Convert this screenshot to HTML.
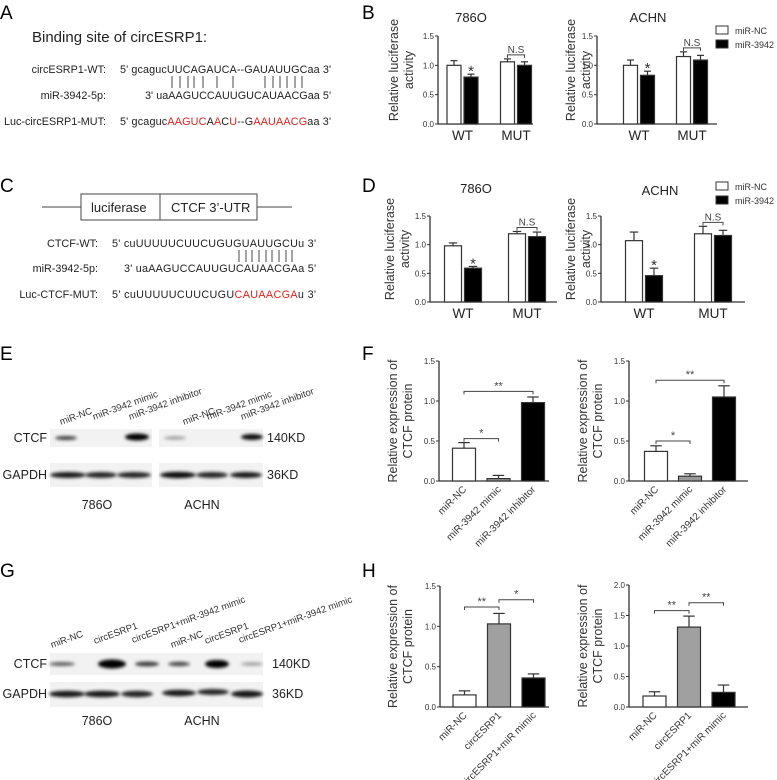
<!DOCTYPE html>
<html><head><meta charset="utf-8">
<style>
html,body{margin:0;padding:0;background:#fff;}
svg{display:block;font-family:"Liberation Sans",sans-serif;}
</style></head>
<body>
<svg id="fig" width="777" height="780" viewBox="0 0 777 780" xmlns="http://www.w3.org/2000/svg">
<defs>
<filter id="blur" x="-50%" y="-100%" width="200%" height="300%"><feGaussianBlur stdDeviation="1.6"/></filter>
</defs>
<g font-size="19" fill="#000">
<text x="0" y="19">A</text><text x="362" y="19">B</text>
<text x="0" y="192">C</text><text x="362" y="192">D</text>
<text x="0" y="360">E</text><text x="362" y="360">F</text>
<text x="0" y="577">G</text><text x="362" y="577">H</text>
</g>
<!-- Panel A -->
<g font-size="10.8" fill="#222">
<text x="32" y="42" font-size="15">Binding site of circESRP1:</text>
<text x="106" y="73" text-anchor="end">circESRP1-WT:</text>
<text x="120" y="73" textLength="211">5' gcagucUUCAGAUCA--GAUAUUGCaa 3'</text>
<g stroke="#333" stroke-width="0.9">
<line x1="172" y1="76" x2="172" y2="88"/><line x1="180" y1="76" x2="180" y2="88"/><line x1="188" y1="76" x2="188" y2="88"/><line x1="194" y1="76" x2="194" y2="88"/><line x1="203" y1="76" x2="203" y2="88"/><line x1="217" y1="76" x2="217" y2="88"/><line x1="233" y1="76" x2="233" y2="88"/><line x1="265" y1="76" x2="265" y2="88"/><line x1="273" y1="76" x2="273" y2="88"/><line x1="280" y1="76" x2="280" y2="88"/><line x1="287" y1="76" x2="287" y2="88"/><line x1="295" y1="76" x2="295" y2="88"/><line x1="302" y1="76" x2="302" y2="88"/>
</g>
<text x="106" y="99" text-anchor="end">miR-3942-5p:</text>
<text x="145" y="99" textLength="186">3' uaAAGUCCAUUGUCAUAACGaa 5'</text>
<text x="106" y="125" text-anchor="end">Luc-circESRP1-MUT:</text>
<text x="120" y="125" textLength="211">5' gcaguc<tspan fill="#e0201c">AAGUC</tspan>A<tspan fill="#e0201c">A</tspan>C<tspan fill="#e0201c">U</tspan>--G<tspan fill="#e0201c">AAUAACG</tspan>aa  3'</text>
</g>
<!-- Panel C -->
<g stroke="#444" fill="none">
<line x1="42" y1="207" x2="81" y2="207"/><line x1="257" y1="207" x2="292" y2="207"/>
<rect x="81" y="194" width="176" height="26"/><line x1="160" y1="194" x2="160" y2="220"/>
</g>
<g font-size="10.8" fill="#222">
<text x="91" y="212" font-size="13">luciferase</text>
<text x="171" y="212" font-size="13">CTCF 3’-UTR</text>
<text x="98" y="247" text-anchor="end">CTCF-WT:</text>
<text x="112" y="247" textLength="204">5' cuUUUUUCUUCUGUGUAUUGCUu 3'</text>
<g stroke="#333" stroke-width="0.9">
<line x1="239" y1="250" x2="239" y2="262"/><line x1="246" y1="250" x2="246" y2="262"/><line x1="252" y1="250" x2="252" y2="262"/><line x1="259" y1="250" x2="259" y2="262"/><line x1="266" y1="250" x2="266" y2="262"/><line x1="272" y1="250" x2="272" y2="262"/><line x1="279" y1="250" x2="279" y2="262"/><line x1="286" y1="250" x2="286" y2="262"/><line x1="292" y1="250" x2="292" y2="262"/>
</g>
<text x="98" y="272" text-anchor="end">miR-3942-5p:</text>
<text x="124" y="272" textLength="192">3' uaAAGUCCAUUGUCAUAACGAa  5'</text>
<text x="98" y="298" text-anchor="end">Luc-CTCF-MUT:</text>
<text x="112" y="298" textLength="204">5' cuUUUUUCUUCUGU<tspan fill="#e0201c">CAUAACGA</tspan>u   3'</text>
</g>
<g id="blots"></g>
<g id="charts"></g>
</svg>
<script>
// ===== Panel B data =====
const bGroups = ["WT","MUT"];
const b1NC = [1.00,1.06], b1NCerr = [0.08,0.05], b1Mi = [0.80,1.00], b1MiErr = [0.05,0.06];
const b2NC = [1.00,1.15], b2NCerr = [0.09,0.08], b2Mi = [0.83,1.09], b2MiErr = [0.07,0.08];
// ===== Panel D data =====
const d1NC = [0.98,1.19], d1NCerr = [0.05,0.04], d1Mi = [0.59,1.14], d1MiErr = [0.03,0.08];
const d2NC = [1.07,1.19], d2NCerr = [0.15,0.13], d2Mi = [0.46,1.16], d2MiErr = [0.13,0.09];
const lucTicks = [0,0.5,1.0,1.5];
const lucTickLabels = ["0.0","0.5","1.0","1.5"];
// ===== Panel F data =====
const fCats = ["miR-NC","miR-3942 mimic","miR-3942 inhibitor"];
const f1Vals = [0.41,0.03,0.98], f1Err = [0.07,0.04,0.07];
const f2Vals = [0.37,0.06,1.05], f2Err = [0.07,0.03,0.14];
// ===== Panel H data =====
const hCats = ["miR-NC","circESRP1","circESRP1+miR mimic"];
const h1Vals = [0.15,1.03,0.36], h1Err = [0.05,0.13,0.05];
const h2Vals = [0.18,1.31,0.24], h2Err = [0.07,0.18,0.12];
const h2Ticks = [0,0.5,1.0,1.5,2.0];
const h2TickLabels = ["0.0","0.5","1.0","1.5","2.0"];

const NS="http://www.w3.org/2000/svg";
const root=document.getElementById('charts');
function mk(tag,attrs,parent,txt){const e=document.createElementNS(NS,tag);for(const k in attrs)e.setAttribute(k,attrs[k]);if(txt!==undefined)e.textContent=txt;(parent||root).appendChild(e);return e;}

function axes(g,c,ticks,labels){
  const y=v=>c.y0-(v/c.ymax)*(c.y0-c.yTop);
  const ax=mk('line',{x1:c.ax,y1:c.yTop,x2:c.ax,y2:c.y0,stroke:'#333','stroke-width':1.3},g);
  
  
  const xx=mk('line',{x1:c.ax,y1:c.y0,x2:c.xEnd,y2:c.y0,stroke:'#333','stroke-width':1.3},g);
  
  
  ticks.forEach((t,i)=>{
    mk('line',{x1:c.ax-3,y1:y(t),x2:c.ax,y2:y(t),stroke:'#333'},g);
    const tl=mk('text',{x:c.ax-4,y:y(t)+3,'text-anchor':'end','font-size':8,fill:'#333'},g,labels[i]);
    
    
  });
  const mid=(c.yTop+c.y0)/2-c.ymidShift;
  c.ylab.forEach((s,i)=>{
    const lx=c.ylx+i*15;
    const t=mk('text',{x:lx,y:mid,transform:`rotate(-90 ${lx} ${mid})`,'text-anchor':'middle','font-size':c.ylfs,fill:'#333'},g,s);
    
    
  });
  return y;
}
function bar(g,x,w,y0,yv,ye,fill,name){
  mk('line',{x1:x+w/2,y1:yv,x2:x+w/2,y2:ye,stroke:'#333','stroke-width':1.2},g);
  mk('line',{x1:x+w/2-w/4,y1:ye,x2:x+w/2+w/4,y2:ye,stroke:'#333','stroke-width':1.2},g);
  const r=mk('rect',{x:x,y:yv,width:w,height:y0-yv,fill:fill,stroke:'#333','stroke-width':1.2},g);
  
  
}
function bracket(g,x1,x2,yy,label,fs){
  mk('path',{d:`M${x1} ${yy+3}V${yy}H${x2}V${yy+3}`,fill:'none',stroke:'#444','stroke-width':1},g);
  const t=mk('text',{x:(x1+x2)/2,y:yy-2,'text-anchor':'middle','font-size':fs||9,fill:'#444'},g,label);
  
  
}
function lucChart(c,nc,ncE,mi,miE){
  const g=mk('g',{});
  
  
  const y=axes(g,c,lucTicks,lucTickLabels);
  const tt=mk('text',{x:c.tx,y:c.ty,'text-anchor':'middle','font-size':13,fill:'#222'},g,c.title);
  
  
  bGroups.forEach((grp,i)=>{
    const cx=c.ax+c.pad+i*c.step;
    bar(g,cx-c.w-1.5,c.w,c.y0,y(nc[i]),y(nc[i]+ncE[i]),'#fff','bar-mir-nc-'+grp.toLowerCase());
    bar(g,cx+1.5,c.w,c.y0,y(mi[i]),y(mi[i]+miE[i]),'#000','bar-mir-3942-'+grp.toLowerCase());
    const xl=mk('text',{x:cx,y:c.y0+16,'text-anchor':'middle','font-size':13.5,fill:'#222'},g,grp);
    
    
    if(i===0){const s=mk('text',{x:cx+1.5+c.w/2,y:y(mi[i]+miE[i])+2,'text-anchor':'middle','font-size':15,fill:'#333'},g,'*');
      
      }
    else{const top=Math.max(nc[i]+ncE[i],mi[i]+miE[i]);bracket(g,cx-c.w/2-1.5,cx+c.w/2+1.5,y(top)-c.nsGap,'N.S',10);}
  });
}
function legend(x,y){
  const g=mk('g',{});
  
  
  mk('rect',{x:x,y:y,width:12,height:8,fill:'#fff',stroke:'#333'},g);
  mk('text',{x:x+19,y:y+8,'font-size':9,fill:'#333'},g,'miR-NC');
  mk('rect',{x:x,y:y+14,width:12,height:8,fill:'#000',stroke:'#333'},g);
  mk('text',{x:x+19,y:y+22,'font-size':9,fill:'#333'},g,'miR-3942');
}
const LUC=['Relative luciferase','activity'];
lucChart({name:'chart-b-786o',title:'786O',tx:471,ty:22,ax:438,xEnd:533,y0:124,yTop:36,ymax:1.5,pad:24.5,step:53.5,w:14,nsGap:4,ylab:LUC,ylx:398,ylfs:12.5,ymidShift:10},b1NC,b1NCerr,b1Mi,b1MiErr);
lucChart({name:'chart-b-achn',title:'ACHN',tx:648,ty:22,ax:597,xEnd:717,y0:124,yTop:36,ymax:1.5,pad:42,step:53,w:14,nsGap:4,ylab:LUC,ylx:575,ylfs:12.5,ymidShift:10},b2NC,b2NCerr,b2Mi,b2MiErr);
legend(716,26);
lucChart({name:'chart-d-786o',title:'786O',tx:476,ty:193,ax:430,xEnd:557,y0:302,yTop:216,ymax:1.5,pad:33,step:64,w:17,nsGap:4,ylab:LUC,ylx:394,ylfs:12.5,ymidShift:10},d1NC,d1NCerr,d1Mi,d1MiErr);
lucChart({name:'chart-d-achn',title:'ACHN',tx:660,ty:195,ax:601,xEnd:745,y0:302,yTop:216,ymax:1.5,pad:43,step:69,w:17,nsGap:4,ylab:LUC,ylx:575,ylfs:12.5,ymidShift:10},d2NC,d2NCerr,d2Mi,d2MiErr);
legend(716,182);

function catChart(c,cats,vals,errs,ticks,labels){
  const g=mk('g',{});
  
  
  const y=axes(g,c,ticks,labels);
  const fills=['#fff',c.midFill,'#000'];
  const cx=cats.map((_,i)=>c.ax+c.pad+i*c.step);
  cats.forEach((cat,i)=>{
    bar(g,cx[i]-c.w/2,c.w,c.y0,y(vals[i]),y(vals[i]+errs[i]),fills[i],'bar-'+cat.toLowerCase().replace(/[^a-z0-9]+/g,'-'));
    const lx=cx[i]+3, ly=c.y0+9;
    const t=mk('text',{x:lx,y:ly,transform:`rotate(-45 ${lx} ${ly})`,'text-anchor':'end','font-size':10,fill:'#333'},g,cat);
    
    
  });
  c.brackets.forEach(b=>bracket(g,cx[b[0]],cx[b[1]],y(b[2]),b[3],11));
}
const EXP=['Relative expression of','CTCF protein'];
catChart({name:'chart-f-786o',ax:439,xEnd:549,y0:481,yTop:361,ymax:1.5,pad:25,step:34.5,w:23,midFill:'#999',ylab:EXP,ylx:397,ylfs:12.5,ymidShift:0,
  brackets:[[0,1,0.53,'*'],[0,2,1.12,'**']]},fCats,f1Vals,f1Err,lucTicks,lucTickLabels);
catChart({name:'chart-f-achn',ax:629,xEnd:748,y0:481,yTop:361,ymax:1.5,pad:27,step:34,w:23,midFill:'#999',ylab:EXP,ylx:587,ylfs:12.5,ymidShift:0,
  brackets:[[0,1,0.50,'*'],[0,2,1.26,'**']]},fCats,f2Vals,f2Err,lucTicks,lucTickLabels);
catChart({name:'chart-h-786o',ax:440,xEnd:549,y0:707,yTop:586,ymax:1.5,pad:24.5,step:34.5,w:23,midFill:'#a0a0a0',ylab:EXP,ylx:397,ylfs:12.5,ymidShift:0,
  brackets:[[0,1,1.24,'**'],[1,2,1.33,'*']]},hCats,h1Vals,h1Err,lucTicks,lucTickLabels);
catChart({name:'chart-h-achn',ax:629,xEnd:748,y0:707,yTop:585,ymax:2.0,pad:25.5,step:34.5,w:23,midFill:'#a0a0a0',ylab:EXP,ylx:587,ylfs:12.5,ymidShift:0,
  brackets:[[0,1,1.58,'**'],[1,2,1.71,'**']]},hCats,h2Vals,h2Err,h2Ticks,h2TickLabels);

// ===== Western blots =====
const broot=document.getElementById('blots');
function blot(cfg){
  const g=mk('g',{},broot);
  
  
  cfg.boxes.forEach(b=>mk('rect',{x:b[0],y:b[1],width:b[2],height:b[3],fill:'#f2f2f2'},g));
  cfg.bands.forEach(b=>{const e=mk('ellipse',{cx:b[0],cy:b[1],rx:b[2],ry:b[3],fill:'#000','fill-opacity':b[4],filter:'url(#blur)'},g);
    
    });
  cfg.texts.forEach(t=>{const e=mk('text',{x:t[0],y:t[1],'text-anchor':t[3]||'start','font-size':t[4]||12.5,fill:'#222'},g,t[2]);
    
    });
  cfg.lanes.forEach(t=>{const e=mk('text',{x:t[0],y:t[1],transform:`rotate(-20 ${t[0]} ${t[1]})`,'font-size':9.5,fill:'#333'},g,t[2]);
    
    });
}
blot({name:'blot-e',
  boxes:[[50,429,102,18],[159,429,104,18],[50,463,102,24],[159,463,104,24]],
  bands:[[66,438,11,2,0.75],[137,437,12,3.5,1],[175,438,11,1.8,0.35],[252,437,11,3,0.95],
    [68,475,18,3,0.9],[101,475,16,3,0.85],[134,475,17,3,0.85],[178,475,18,3.2,0.95],[212,475,16,3,0.85],[246,475,16,3,0.9]],
  texts:[[47,442,'CTCF','end'],[47,479,'GAPDH','end'],[267,442,'140KD'],[267,479,'36KD'],[97,509,'786O','middle'],[202,509,'ACHN','middle']],
  lanes:[[61,425,'miR-NC'],[94,420,'miR-3942 mimic'],[130,420,'miR-3942 inhibitor'],[184,425,'miR-NC'],[208,420,'miR-3942 mimic'],[242,420,'miR-3942 inhibitor']]});
blot({name:'blot-g',
  boxes:[[50,653,112,22],[157,653,106,22],[50,682,112,25],[157,682,106,25]],
  bands:[[62,664,13,2,0.6],[112,664,14,4.5,1],[147,664,12,2.5,0.75],[179,664,11,2.2,0.7],[217,664,12,4,1],[252,664,11,1.8,0.35],
    [67,694,18,3.3,0.9],[102,694,18,3.3,0.9],[137,694,16,3.2,0.85],[179,693,17,3.2,0.9],[213,692,16,3,0.85],[247,694,16,3.5,0.9]],
  texts:[[47,668,'CTCF','end'],[47,698,'GAPDH','end'],[272,668,'140KD'],[272,698,'36KD'],[97,725,'786O','middle'],[202,725,'ACHN','middle']],
  lanes:[[52,648,'miR-NC'],[95,644,'circESRP1'],[133,643,'circESRP1+miR-3942 mimic'],[172,648,'miR-NC'],[206,644,'circESRP1'],[240,643,'circESRP1+miR-3942 mimic']]});
</script>
</body></html>
